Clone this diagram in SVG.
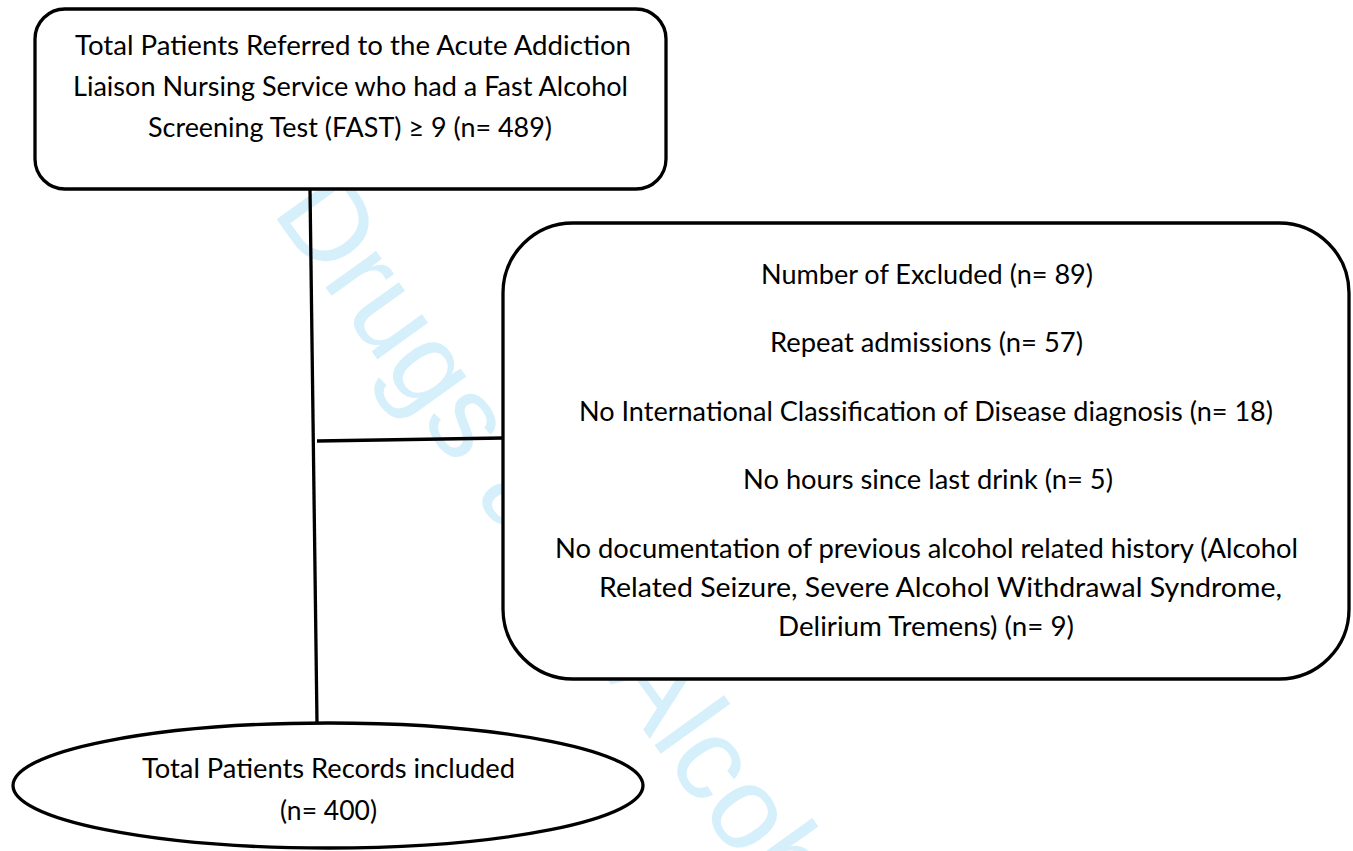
<svg xmlns="http://www.w3.org/2000/svg" width="1353" height="851" viewBox="0 0 1353 851">
<style>
.box{fill:#ffffff;stroke:#000000;stroke-width:3.3}
.ln{fill:none;stroke:#000000;stroke-width:3.3}
.t{font-family:Lato,"Liberation Sans",sans-serif;font-size:27px;fill:#000000}
.wm{font-family:"Liberation Sans",Arial,sans-serif;font-size:118px;fill:#d5effb}
</style>
<rect width="1353" height="851" fill="#ffffff"/>
<g id="watermark">
<text class="wm" transform="translate(271,211.5) rotate(54.3)">Drugs and Alcohol</text>
</g>
<g id="connectors">
<line class="ln" x1="310" y1="189" x2="317" y2="723"/>
<line class="ln" x1="317" y1="441" x2="503" y2="438"/>
</g>
<g id="node-total">
<rect class="box" x="35" y="9" width="631" height="180" rx="30" ry="30"/>
<text class="t" x="75" y="55" textLength="556" lengthAdjust="spacingAndGlyphs">Total Patients Referred to the Acute Addiction</text>
<text class="t" x="73" y="96" textLength="555" lengthAdjust="spacingAndGlyphs">Liaison Nursing Service who had a Fast Alcohol</text>
<text class="t" x="148" y="137" textLength="404" lengthAdjust="spacingAndGlyphs">Screening Test (FAST) ≥ 9 (n= 489)</text>
</g>
<g id="node-excluded">
<rect class="box" x="503" y="223" width="846" height="456" rx="70" ry="70"/>
<text class="t" x="761" y="284" textLength="332" lengthAdjust="spacingAndGlyphs">Number of Excluded (n= 89)</text>
<text class="t" x="770" y="352" textLength="313" lengthAdjust="spacingAndGlyphs">Repeat admissions (n= 57)</text>
<text class="t" x="579" y="421" textLength="694" lengthAdjust="spacingAndGlyphs">No International Classification of Disease diagnosis (n= 18)</text>
<text class="t" x="743" y="489" textLength="370" lengthAdjust="spacingAndGlyphs">No hours since last drink (n= 5)</text>
<text class="t" x="555" y="558" textLength="743" lengthAdjust="spacingAndGlyphs">No documentation of previous alcohol related history (Alcohol</text>
<text class="t" x="599" y="597" textLength="683" lengthAdjust="spacingAndGlyphs">Related Seizure, Severe Alcohol Withdrawal Syndrome,</text>
<text class="t" x="778" y="636" textLength="296" lengthAdjust="spacingAndGlyphs">Delirium Tremens) (n= 9)</text>
</g>
<g id="node-included">
<ellipse class="box" cx="328" cy="785.5" rx="315" ry="62.5"/>
<text class="t" x="142" y="778" textLength="373" lengthAdjust="spacingAndGlyphs">Total Patients Records included</text>
<text class="t" x="280" y="820" textLength="97" lengthAdjust="spacingAndGlyphs">(n= 400)</text>
</g>
</svg>
